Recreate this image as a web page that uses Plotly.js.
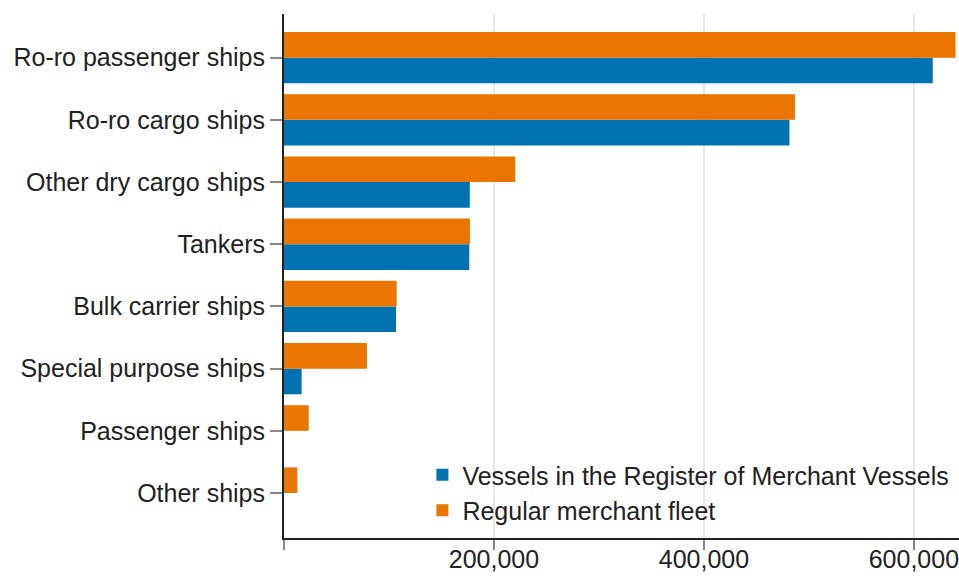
<!DOCTYPE html>
<html>
<head>
<meta charset="utf-8">
<script src="https://cdn.plot.ly/plotly-3.0.1.min.js"></script>
<style>html,body{margin:0;padding:0;background:#fff;}#chart{width:959px;height:581px;}</style>
</head>
<body>
<div id="chart"></div>
<script>
// Categories listed top to bottom as in the chart
var categories = [
  "Ro-ro passenger ships",
  "Ro-ro cargo ships",
  "Other dry cargo ships",
  "Tankers",
  "Bulk carrier ships",
  "Special purpose ships",
  "Passenger ships",
  "Other ships"
];
var seriesNames = ["Vessels in the Register of Merchant Vessels", "Regular merchant fleet"];
var registerValues = [618000, 481500, 177000, 176500, 106700, 16800, 0, 0];
var regularValues  = [639700, 486700, 220300, 177100, 107300, 79000, 23500, 12700];
var xTickVals = [0, 200000, 400000, 600000];
var xTickText = ["", "200,000", "400,000", "600,000"];

var FONT = "Liberation Sans, Arial, sans-serif";
var TXT = "#222222";

var traces = [
  {
    type: "bar", orientation: "h", name: seriesNames[0],
    y: categories, x: registerValues,
    marker: {color: "#0073b0", line: {width: 0}},
    hoverinfo: "x+y"
  },
  {
    type: "bar", orientation: "h", name: seriesNames[1],
    y: categories, x: regularValues,
    marker: {color: "#ea7500", line: {width: 0}},
    hoverinfo: "x+y"
  }
];

var layout = {
  width: 959, height: 581,
  margin: {l: 284, r: 0, t: 14, b: 43, pad: 0},
  paper_bgcolor: "#ffffff", plot_bgcolor: "#ffffff",
  barmode: "group", bargap: 0.175, bargroupgap: 0,
  font: {family: FONT, size: 25, color: TXT},
  showlegend: true,
  legend: {
    x: 0.205, xanchor: "left", y: 0.164, yanchor: "top",
    bgcolor: "rgba(0,0,0,0)", borderwidth: 0,
    traceorder: "normal",
    font: {family: FONT, size: 25, color: TXT}
  },
  xaxis: {
    range: [0, 643000],
    tickmode: "array", tickvals: xTickVals, ticktext: xTickText,
    showgrid: true, gridcolor: "#e6e6e6", gridwidth: 2,
    zeroline: false,
    showline: true, linecolor: "#222222", linewidth: 2,
    ticks: "outside", ticklen: 10, tickwidth: 2, tickcolor: "#888888",
    ticklabelstandoff: -12,
    ticklabeloverflow: "allow",
    tickfont: {family: FONT, size: 25, color: TXT},
    fixedrange: true
  },
  yaxis: {
    type: "category",
    categoryorder: "array", categoryarray: categories.slice().reverse(),
    range: [-0.723, 7.702],
    showgrid: false, zeroline: false,
    showline: true, linecolor: "#222222", linewidth: 2,
    ticks: "outside", ticklen: 12, tickwidth: 2, tickcolor: "#888888",
    tickfont: {family: FONT, size: 25, color: TXT},
    fixedrange: true
  }
};

Plotly.newPlot("chart", traces, layout, {displayModeBar: false, staticPlot: true});
</script>
</body>
</html>
